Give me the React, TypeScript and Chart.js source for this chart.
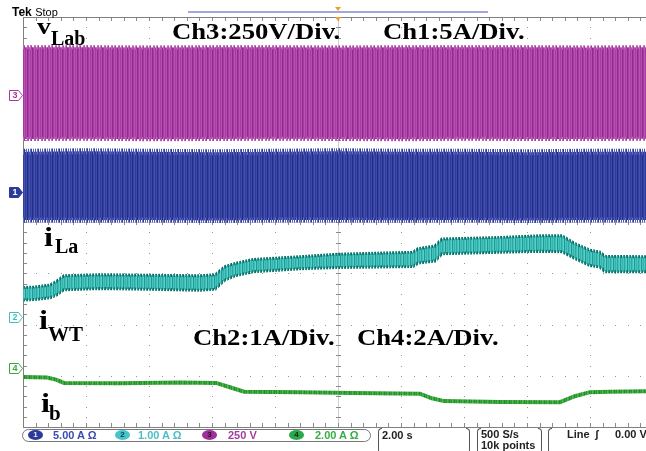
import { useEffect, useRef } from "react";
import { Chart, registerables } from "chart.js";

Chart.register(...registerables);

// Horizontal: 2.00 s/div; the screen shows just under 10 divisions
const SEC_PER_DIV = 2;
const SHOWN_DIVS = 9.89;

// Ch3 (v_Lab, 250 V/div): upper / lower envelope of the switching waveform, V
const CH3_TIME = [0, 2, 4, 6, 8, 10, 12, 14, 16, 18, 19.78];
const CH3_UPPER = [232, 233, 231, 232, 233, 231, 232, 233, 232, 231, 232];
const CH3_LOWER = [-215, -214, -216, -215, -214, -215, -216, -214, -215, -215, -214];

// Ch1 (5 A/div): upper / lower envelope, A
const CH1_TIME = [0, 2, 4, 6, 8, 10, 12, 14, 16, 18, 19.78];
const CH1_UPPER = [3.9, 3.95, 3.9, 3.85, 3.9, 3.95, 3.9, 3.9, 3.85, 3.9, 3.9];
const CH1_LOWER = [-2.75, -2.78, -2.75, -2.8, -2.76, -2.75, -2.78, -2.76, -2.8, -2.75, -2.76];

// Ch2 (i_La, 1 A/div): ripple band, A
const CH2_TIME = [0, 0.38, 0.86, 1.08, 1.3, 2.44, 4.03, 5.62, 6.1, 6.41, 6.73, 7.3, 8.79, 9.97, 12.38, 12.54, 13.08, 13.3, 15.14, 16.41, 17.11, 17.52, 18.0, 18.32, 18.48, 19.78];
const CH2_UPPER = [0.57, 0.58, 0.62, 0.7, 0.8, 0.82, 0.81, 0.8, 0.82, 0.98, 1.04, 1.12, 1.17, 1.22, 1.26, 1.33, 1.38, 1.52, 1.55, 1.58, 1.58, 1.43, 1.3, 1.26, 1.18, 1.17];
const CH2_LOWER = [0.33, 0.34, 0.37, 0.43, 0.53, 0.55, 0.54, 0.52, 0.54, 0.72, 0.8, 0.88, 0.94, 0.96, 0.98, 1.05, 1.09, 1.23, 1.26, 1.28, 1.27, 1.14, 1.0, 0.97, 0.88, 0.88];

// Ch4 (i_b, 2 A/div), A
const CH4_TIME = [0, 0.76, 1.05, 1.3, 3.08, 4.98, 6.13, 6.57, 7.02, 8.79, 10.48, 12.6, 12.98, 13.37, 15.14, 17.05, 17.52, 18.0, 18.63, 19.78];
const CH4_VALUE = [-0.35, -0.37, -0.45, -0.58, -0.59, -0.56, -0.58, -0.75, -0.92, -0.94, -0.97, -1.0, -1.18, -1.29, -1.32, -1.33, -1.1, -0.94, -0.92, -0.9];

// Vertical settings of each channel: units per division and ground position (div)
const VERTICAL: Record<string, { perDiv: number; position: number }> = {
  ch1: { perDiv: 5, position: 0.59 },
  ch2: { perDiv: 1, position: -1.85 },
  ch3: { perDiv: 250, position: 2.48 },
  ch4: { perDiv: 2, position: -2.85 },
};

const COLORS = {
  ch1: "#2e3a98",
  ch2: "#3fc2bc",
  ch3: "#a5379f",
  ch4: "#3aa83c",
};

const pts = (t: number[], v: number[]) => t.map((x, i) => ({ x, y: v[i] }));

const axisFor = (key: string) => {
  const { perDiv, position } = VERTICAL[key];
  return {
    type: "linear",
    axis: "y",
    position: "left",
    display: false,
    min: (-4 - position) * perDiv,
    max: (4 - position) * perDiv,
  };
};

// column-striped pattern used to give the traces their dense, sampled texture
function stripes(ctx: CanvasRenderingContext2D, cols: string[]) {
  const c = document.createElement("canvas");
  c.width = cols.length;
  c.height = 1;
  const g = c.getContext("2d")!;
  cols.forEach((col, i) => {
    g.fillStyle = col;
    g.fillRect(i, 0, 1, 1);
  });
  return ctx.createPattern(c, "repeat") as any;
}

// Tek style graticule: dotted major lines, ticked centre cross and frame
const graticule = {
  id: "graticule",
  beforeDatasetsDraw(chart: any) {
    const { ctx, chartArea: a, scales } = chart;
    const xs = scales.x;
    const ys = scales.grid;
    ctx.save();
    const minorX: number[] = [];
    for (let t = 0; t <= SHOWN_DIVS * SEC_PER_DIV + 0.01; t += SEC_PER_DIV / 5) minorX.push(Math.round(xs.getPixelForValue(t)));
    const minorY: number[] = [];
    for (let d = -20; d <= 20; d++) minorY.push(Math.round(ys.getPixelForValue(d / 5)));
    const cx = Math.round(xs.getPixelForValue(5 * SEC_PER_DIV));
    const cy = Math.round(ys.getPixelForValue(0));
    // centre cross lines
    ctx.fillStyle = "#cfcfcf";
    ctx.fillRect(a.left, cy, a.right - a.left, 1);
    ctx.fillRect(cx, a.top, 1, a.bottom - a.top);
    // vertical dotted lines
    ctx.fillStyle = "#959595";
    for (let k = 1; k < 10; k++) {
      const px = Math.round(xs.getPixelForValue(k * SEC_PER_DIV));
      for (const py of minorY) ctx.fillRect(px, py, 1, 1);
    }
    // horizontal dotted lines
    for (let j = -3; j <= 3; j++) {
      const py = Math.round(ys.getPixelForValue(j));
      for (const px of minorX) ctx.fillRect(px, py, 1, 1);
    }
    // centre cross ticks
    ctx.fillStyle = "#8a8a8a";
    for (const py of minorY) ctx.fillRect(cx - 2, py, 5, 1);
    for (const px of minorX) ctx.fillRect(px, cy - 2, 1, 5);
    // frame ticks
    for (const py of minorY) ctx.fillRect(a.left, py, 4, 1);
    for (const px of minorX) {
      ctx.fillRect(px, a.top, 1, 4);
      ctx.fillRect(px, a.bottom - 4, 1, 4);
    }
    // frame
    ctx.fillStyle = "#808080";
    ctx.fillRect(a.left, a.top, a.right - a.left, 1);
    ctx.fillRect(a.left, a.bottom, a.right - a.left, 1);
    ctx.fillRect(a.left, a.top, 1, a.bottom - a.top);
    ctx.restore();
  },
  afterDraw(chart: any) {
    const { ctx, chartArea: a, scales } = chart;
    ctx.save();
    // record bar and trigger position
    const cx = Math.round(scales.x.getPixelForValue(5 * SEC_PER_DIV));
    ctx.fillStyle = "#a2a7dc";
    ctx.fillRect(cx - 150, 11, 300, 2);
    ctx.fillStyle = "#f0a020";
    ctx.beginPath();
    ctx.moveTo(cx - 3, 7);
    ctx.lineTo(cx + 3, 7);
    ctx.lineTo(cx, 11);
    ctx.closePath();
    ctx.fill();
    ctx.beginPath();
    ctx.moveTo(cx - 3, a.top);
    ctx.lineTo(cx + 3, a.top);
    ctx.lineTo(cx, a.top + 4);
    ctx.closePath();
    ctx.fill();
    // channel ground tags
    const tags: [string, string, boolean][] = [
      ["ch3", "3", false],
      ["ch1", "1", true],
      ["ch2", "2", false],
      ["ch4", "4", false],
    ];
    for (const [key, label, solid] of tags) {
      const py = Math.round(scales[key].getPixelForValue(0)) + 0.5;
      const col = (COLORS as any)[key];
      ctx.beginPath();
      ctx.moveTo(9.5, py - 5);
      ctx.lineTo(18.5, py - 5);
      ctx.lineTo(22.5, py);
      ctx.lineTo(18.5, py + 5);
      ctx.lineTo(9.5, py + 5);
      ctx.closePath();
      ctx.fillStyle = solid ? col : "#ffffff";
      ctx.fill();
      ctx.strokeStyle = col;
      ctx.lineWidth = 1;
      ctx.stroke();
      ctx.fillStyle = solid ? "#ffffff" : col;
      ctx.font = "bold 9px 'Liberation Sans'";
      ctx.textAlign = "center";
      ctx.textBaseline = "middle";
      ctx.fillText(label, 15, py + 0.5);
    }
    ctx.restore();
  },
};

const SERIF = "'Liberation Serif', 'Times New Roman', serif";
const SANS = "'Liberation Sans', Arial, sans-serif";

function Txt(props: {
  x: number;
  base: number;
  size: number;
  family?: string;
  bold?: boolean;
  color?: string;
  stretch?: number;
  children: any;
}) {
  const { x, base, size, family = SERIF, bold = true, color = "#000", stretch = 1, children } = props;
  const k = family === SERIF ? 0.8375 : 0.8465;
  return (
    <div
      style={{
        position: "absolute",
        left: x,
        top: base - k * size,
        fontFamily: family,
        fontWeight: bold ? 700 : 400,
        fontSize: size,
        lineHeight: `${size}px`,
        color,
        whiteSpace: "nowrap",
        transform: `scaleX(${stretch})`,
        transformOrigin: "left top",
      }}
    >
      {children}
    </div>
  );
}

function Badge(props: { x: number; bg: string; fg: string; label: string }) {
  return (
    <div
      style={{
        position: "absolute",
        left: props.x,
        top: 430,
        width: 15,
        height: 10,
        borderRadius: "50%",
        background: props.bg,
        color: props.fg,
        fontFamily: SANS,
        fontWeight: 700,
        fontSize: 8,
        lineHeight: "10px",
        textAlign: "center",
      }}
    >
      {props.label}
    </div>
  );
}

function Bracket(props: { x: number; right?: boolean }) {
  const b = "1px solid #555";
  return (
    <div
      style={{
        position: "absolute",
        left: props.x,
        top: 428,
        width: 4,
        height: 26,
        borderTop: b,
        borderBottom: b,
        borderLeft: props.right ? "none" : b,
        borderRight: props.right ? b : "none",
        borderRadius: props.right ? "0 6px 6px 0" : "6px 0 0 6px",
        boxSizing: "border-box",
      }}
    />
  );
}

export default function App() {
  const ref = useRef<HTMLCanvasElement | null>(null);

  useEffect(() => {
    document.body.style.margin = "0";
    const canvas = ref.current!;
    const ctx = canvas.getContext("2d")!;
    const clear = "rgba(0,0,0,0)";
    const purpleFill = stripes(ctx, ["#a83ca3", "#b44eaf", "#92298e", "#a53aa0", "#b852b3"]);
    const purpleEdge = stripes(ctx, ["#b24fad", clear, "#c06dbb", "#a83ca3", clear, clear, "#b95fb4"]);
    const blueFill = stripes(ctx, ["#2f3b99", "#3d4aab", "#242e82", "#34409f", "#4451b3"]);
    const blueEdge = stripes(ctx, ["#4854b0", clear, "#6670c2", "#2f3b99", clear, "#5560b8", clear]);
    const cyanFill = stripes(ctx, ["#45c7c1", "#2ea8a1", "#3fbfb9", "#56d0ca", "#27968f", "#44c4be", "#37b3ad"]);
    const cyanEdge = stripes(ctx, ["#17776f", clear, "#1f8c85", "#136a63", clear, "#2a9d96"]);
    const greenLine = stripes(ctx, ["#3aa83c", "#2c9330", "#4cbb4e", "#3aa83c", "#258a2a"]);
    const chart = new Chart(canvas, {
      type: "line",
      data: {
        datasets: [
          { data: pts(CH3_TIME, CH3_LOWER), yAxisID: "ch3", borderColor: purpleEdge, borderWidth: 4, fill: false },
          { data: pts(CH3_TIME, CH3_UPPER), yAxisID: "ch3", borderColor: purpleEdge, borderWidth: 4, fill: "-1", backgroundColor: purpleFill },
          { data: pts(CH1_TIME, CH1_LOWER), yAxisID: "ch1", borderColor: blueEdge, borderWidth: 5, fill: false },
          { data: pts(CH1_TIME, CH1_UPPER), yAxisID: "ch1", borderColor: blueEdge, borderWidth: 6, fill: "-1", backgroundColor: blueFill },
          { data: pts(CH2_TIME, CH2_LOWER), yAxisID: "ch2", borderColor: cyanEdge, borderWidth: 3, fill: false },
          { data: pts(CH2_TIME, CH2_UPPER), yAxisID: "ch2", borderColor: cyanEdge, borderWidth: 3, fill: "-1", backgroundColor: cyanFill },
          { data: pts(CH4_TIME, CH4_VALUE), yAxisID: "ch4", borderColor: greenLine, borderWidth: 4, fill: false },
        ],
      },
      options: {
        responsive: false,
        animation: false,
        events: [],
        layout: { padding: { left: 23, top: 17, right: 0, bottom: 24 } },
        elements: { point: { radius: 0 }, line: { tension: 0 } },
        plugins: { legend: { display: false }, tooltip: { enabled: false } },
        scales: {
          x: { type: "linear", axis: "x", position: "bottom", display: false, min: 0, max: SHOWN_DIVS * SEC_PER_DIV },
          grid: { type: "linear", axis: "y", position: "left", display: false, min: -4, max: 4 },
          ch1: axisFor("ch1"),
          ch2: axisFor("ch2"),
          ch3: axisFor("ch3"),
          ch4: axisFor("ch4"),
        } as any,
      },
      plugins: [graticule],
    });
    return () => chart.destroy();
  }, []);

  const STRETCH = 1.16;
  return (
    <div style={{ position: "relative", width: 646, height: 451, background: "#fff", overflow: "hidden" }}>
      <canvas ref={ref} width={646} height={451} style={{ position: "absolute", left: 0, top: 0 }} />

      <Txt x={12} base={16} size={12} family={SANS}>
        Tek <span style={{ fontWeight: 400, fontSize: 11 }}>Stop</span>
      </Txt>

      <Txt x={172} base={39} size={23} stretch={STRETCH}>Ch3:250V/Div.</Txt>
      <Txt x={383} base={39} size={23} stretch={STRETCH}>Ch1:5A/Div.</Txt>
      <Txt x={193} base={345} size={23} stretch={STRETCH}>Ch2:1A/Div.</Txt>
      <Txt x={357} base={345} size={23} stretch={STRETCH}>Ch4:2A/Div.</Txt>

      <Txt x={37} base={34} size={23} stretch={1.2}>v</Txt>
      <Txt x={51} base={45} size={20}>Lab</Txt>
      <Txt x={44} base={247} size={27} stretch={1.2}>i</Txt>
      <Txt x={55} base={253} size={20}>La</Txt>
      <Txt x={39} base={330} size={27} stretch={1.2}>i</Txt>
      <Txt x={48} base={342} size={21}>WT</Txt>
      <Txt x={41} base={413} size={27} stretch={1.2}>i</Txt>
      <Txt x={49} base={421} size={21}>b</Txt>

      <div
        style={{
          position: "absolute",
          left: 22,
          top: 429,
          width: 349,
          height: 13,
          border: "1px solid #777",
          borderRadius: 7,
          boxSizing: "border-box",
        }}
      />
      <Badge x={28} bg="#2e3a98" fg="#e8e8ff" label="1" />
      <Txt x={53} base={439} size={11} family={SANS} color="#3b4bb4">5.00 A Ω</Txt>
      <Badge x={115} bg="#45c5cc" fg="#1a3a40" label="2" />
      <Txt x={138} base={439} size={11} family={SANS} color="#4bbfca">1.00 A Ω</Txt>
      <Badge x={202} bg="#a0309a" fg="#2a102a" label="3" />
      <Txt x={228} base={439} size={11} family={SANS} color="#a43ca2">250 V</Txt>
      <Badge x={289} bg="#2aa84a" fg="#0e2a12" label="4" />
      <Txt x={315} base={439} size={11} family={SANS} color="#36ad46">2.00 A Ω</Txt>

      <Bracket x={378} />
      <Txt x={382} base={439} size={11} family={SANS} color="#222">2.00 s</Txt>
      <Bracket x={466} right />
      <Bracket x={477} />
      <Txt x={481} base={438} size={11} family={SANS} color="#222">500 S/s</Txt>
      <Txt x={481} base={449} size={11} family={SANS} color="#222">10k points</Txt>
      <Bracket x={538} right />
      <Bracket x={548} />
      <Txt x={567} base={438} size={11} family={SANS} color="#222">Line</Txt>
      <Txt x={595} base={438} size={11} family={SANS} color="#222">ʃ</Txt>
      <Txt x={615} base={438} size={11} family={SANS} color="#222">0.00 V</Txt>
    </div>
  );
}
